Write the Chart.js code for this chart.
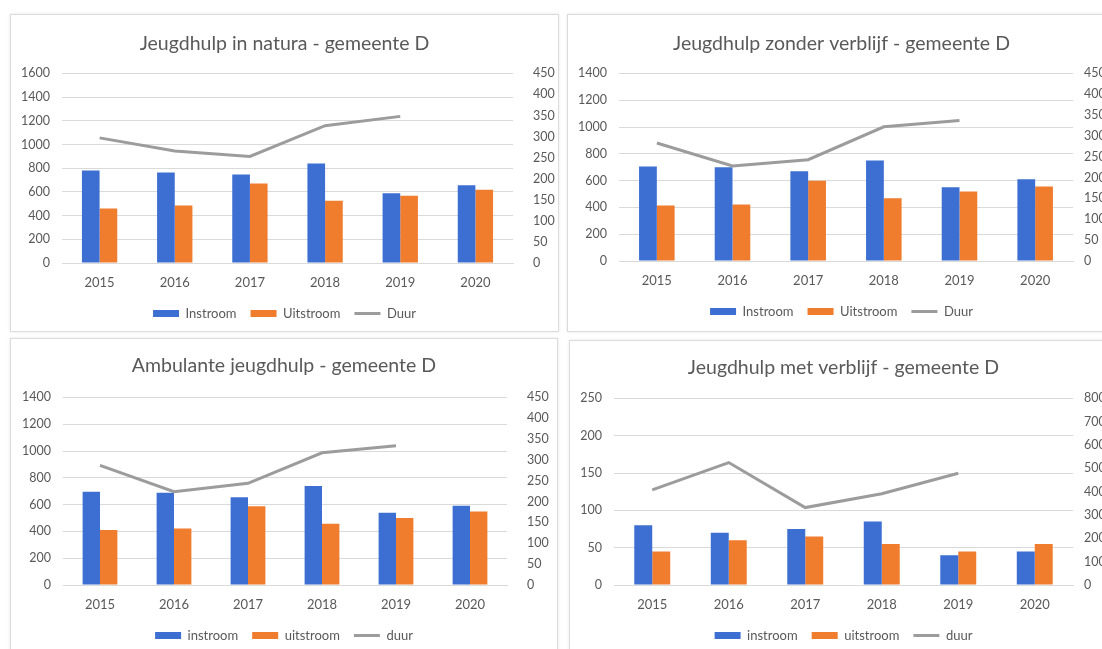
<!DOCTYPE html>
<html>
<head>
<meta charset="utf-8">
<script src="https://cdn.jsdelivr.net/npm/chart.js@4"></script>
<style>
  body { margin: 0; background: #fff; overflow: hidden; width: 1102px; height: 649px; position: relative; }
  .panel { position: absolute; border: 1px solid #dcdcdc; background: #fff; box-shadow: 0 0 3px rgba(0,0,0,0.10); overflow: hidden; }
  canvas { display: block; }
</style>
</head>
<body>
<div class="panel" style="left:10px;top:14px;width:547px;height:316px"><canvas id="c1" width="547" height="316"></canvas></div>
<div class="panel" style="left:567px;top:14px;width:560px;height:316px"><canvas id="c2" width="547" height="316"></canvas></div>
<div class="panel" style="left:10px;top:338px;width:546px;height:322px"><canvas id="c3" width="546" height="321"></canvas></div>
<div class="panel" style="left:569px;top:340px;width:560px;height:322px"><canvas id="c4" width="547" height="319"></canvas></div>

<script>
// jaren
const years = ['2015', '2016', '2017', '2018', '2019', '2020'];

// Jeugdhulp in natura
const naturaInstroom = [781, 764, 747, 840, 588, 657];
const naturaUitstroom = [460, 486, 670, 525, 567, 618];
const naturaDuur = [297, 266, 253, 326, 348, null];

// Jeugdhulp zonder verblijf
const zonderInstroom = [705, 700, 670, 750, 551, 610];
const zonderUitstroom = [415, 422, 598, 469, 519, 556];
const zonderDuur = [283, 228, 243, 322, 337, null];

// Ambulante jeugdhulp
const ambuInstroom = [696, 689, 654, 738, 540, 592];
const ambuUitstroom = [411, 421, 587, 458, 500, 548];
const ambuDuur = [287, 224, 244, 317, 334, null];

// Jeugdhulp met verblijf
const metInstroom = [80, 70, 75, 85, 40, 45];
const metUitstroom = [45, 60, 65, 55, 45, 55];
const metDuur = [408, 525, 332, 391, 479, null];

const legendUpper = ['Instroom', 'Uitstroom', 'Duur'];
const legendLower = ['instroom', 'uitstroom', 'duur'];

const BLUE = '#3d6fd2';
const ORANGE = '#f07c2e';
const GREY = '#9c9c9c';
const TEXT = '#595959';
const GRID = '#dadada';

Chart.defaults.font.family = 'Lato, "Open Sans", sans-serif';
Chart.defaults.color = TEXT;

function plain(v) { return String(v); }

function makeChart(id, title, names, instroom, uitstroom, duur, cfg) {
    const ctx = document.getElementById(id).getContext('2d');
    return new Chart(ctx, {
        type: 'bar',
        data: {
            labels: years,
            datasets: [{
                label: names[0],
                data: instroom,
                backgroundColor: BLUE,
                borderWidth: 0,
                yAxisID: 'y',
                categoryPercentage: 0.47,
                barPercentage: 1,
                pointStyle: 'rect',
                order: 2
            }, {
                label: names[1],
                data: uitstroom,
                backgroundColor: ORANGE,
                borderWidth: 0,
                yAxisID: 'y',
                categoryPercentage: 0.47,
                barPercentage: 1,
                pointStyle: 'rect',
                order: 2
            }, {
                type: 'line',
                label: names[2],
                data: duur,
                borderColor: GREY,
                backgroundColor: GREY,
                borderWidth: 3,
                pointRadius: 0,
                tension: 0,
                yAxisID: 'y1',
                pointStyle: 'line',
                order: 1
            }]
        },
        options: {
            responsive: false,
            animation: false,
            layout: { padding: { top: cfg.top, bottom: cfg.bottom, left: 0, right: 0 } },
            plugins: {
                title: {
                    display: true,
                    text: title,
                    color: TEXT,
                    font: { size: 19.5, weight: 'normal' },
                    padding: { top: 0, bottom: cfg.titleGap }
                },
                legend: {
                    display: true,
                    position: 'bottom',
                    labels: {
                        usePointStyle: true,
                        pointStyleWidth: 26,
                        boxHeight: 7,
                        font: { size: 13 },
                        color: TEXT,
                        padding: 14,
                        sort: function(a, b) { return a.datasetIndex - b.datasetIndex; }
                    }
                },
                tooltip: { enabled: false }
            },
            scales: {
                x: {
                    grid: { display: false, drawTicks: false },
                    border: { display: true, color: GRID },
                    ticks: { padding: 12, font: { size: 13 } },
                    afterFit: function(s) { s.height = cfg.xh; }
                },
                y: {
                    position: 'left',
                    min: 0,
                    max: cfg.leftMax,
                    ticks: { stepSize: cfg.leftStep, padding: cfg.leftPad, font: { size: 12.5 }, callback: plain },
                    grid: { color: GRID, drawTicks: false },
                    border: { display: false },
                    afterFit: function(s) { s.width = cfg.leftW; }
                },
                y1: {
                    position: 'right',
                    min: 0,
                    max: cfg.rightMax,
                    ticks: { stepSize: cfg.rightStep, padding: cfg.rightPad, font: { size: 12.5 }, callback: plain },
                    grid: { display: false, drawTicks: false },
                    border: { display: false },
                    afterFit: function(s) { s.width = cfg.rightW; }
                }
            }
        }
    });
}

makeChart('c1', 'Jeugdhulp in natura - gemeente D', legendUpper,
    naturaInstroom, naturaUitstroom, naturaDuur,
    { top: 17, bottom: 1, titleGap: 18, xh: 30, leftMax: 1600, leftStep: 200, rightMax: 450, rightStep: 50,
      leftW: 51, rightW: 45, leftPad: 12, rightPad: 20 });

makeChart('c2', 'Jeugdhulp zonder verblijf - gemeente D', legendUpper,
    zonderInstroom, zonderUitstroom, zonderDuur,
    { top: 17, bottom: 3, titleGap: 18, xh: 30, leftMax: 1400, leftStep: 200, rightMax: 450, rightStep: 50,
      leftW: 51, rightW: 42, leftPad: 12, rightPad: 11 });

makeChart('c3', 'Ambulante jeugdhulp - gemeente D', legendLower,
    ambuInstroom, ambuUitstroom, ambuDuur,
    { top: 15, bottom: 8, titleGap: 20, xh: 30, leftMax: 1400, leftStep: 200, rightMax: 450, rightStep: 50,
      leftW: 52, rightW: 50, leftPad: 12, rightPad: 20 });

makeChart('c4', 'Jeugdhulp met verblijf - gemeente D', legendLower,
    metInstroom, metUitstroom, metDuur,
    { top: 15, bottom: 8, titleGap: 19, xh: 30, leftMax: 250, leftStep: 50, rightMax: 800, rightStep: 100,
      leftW: 44, rightW: 44, leftPad: 12, rightPad: 11 });
</script>
</body>
</html>
